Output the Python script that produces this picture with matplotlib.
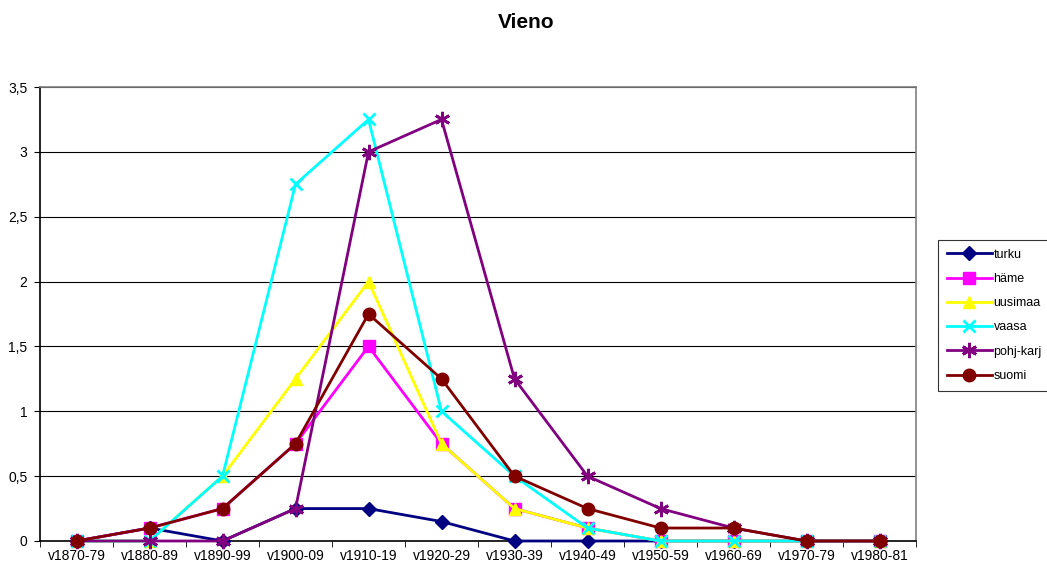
import matplotlib
matplotlib.use("Agg")
import matplotlib.pyplot as plt
from matplotlib.ticker import FuncFormatter, FixedLocator

plt.rcParams['font.family'] = ['Liberation Sans', 'DejaVu Sans']

categories = ["v1870-79", "v1880-89", "v1890-99", "v1900-09", "v1910-19", "v1920-29",
              "v1930-39", "v1940-49", "v1950-59", "v1960-69", "v1970-79", "v1980-81"]
turku = [0, 0.1, 0, 0.25, 0.25, 0.15, 0, 0, 0, 0, 0, 0]
hame = [0, 0.1, 0.25, 0.75, 1.5, 0.75, 0.25, 0.1, 0, 0, 0, 0]
uusimaa = [0, 0, 0.5, 1.25, 2, 0.75, 0.25, 0.1, 0, 0, 0, 0]
vaasa = [0, 0, 0.5, 2.75, 3.25, 1, 0.5, 0.1, 0, 0, 0, 0]
pohjkarj = [0, 0, 0, 0.25, 3, 3.25, 1.25, 0.5, 0.25, 0.1, 0, 0]
suomi = [0, 0.1, 0.25, 0.75, 1.75, 1.25, 0.5, 0.25, 0.1, 0.1, 0, 0]

series = [
    ("turku", turku, "#000080", "D", 7),
    ("häme", hame, "#FF00FF", "s", 8),
    ("uusimaa", uusimaa, "#FFFF00", "^", 9),
    ("vaasa", vaasa, "#00FFFF", "x", 9),
    ("pohj-karj", pohjkarj, "#800080", (6, 2, 0), 11),
    ("suomi", suomi, "#800000", "o", 9),
]

fig = plt.figure(figsize=(10.47, 5.65), dpi=100)
ax = fig.add_axes([40/1047, 1-541/565, (916-40)/1047, (541-87)/565])

x = list(range(len(categories)))
for name, vals, col, mk, ms in series:
    mew = 2 if mk in ("x", (6, 2, 0)) else 1
    ax.plot(x, vals, color=col, marker=mk, markersize=ms, linewidth=2,
            markeredgecolor=col, markerfacecolor=col, markeredgewidth=mew,
            label=name, clip_on=False, zorder=3)

ax.set_xlim(-0.5, len(categories) - 0.5)
ax.set_ylim(0, 3.5)
ax.set_yticks([0, 0.5, 1, 1.5, 2, 2.5, 3, 3.5])
ax.yaxis.set_major_formatter(FuncFormatter(lambda v, p: ("%g" % v).replace(".", ",")))
ax.set_xticks(x)
ax.set_xticklabels(categories)
ax.xaxis.set_minor_locator(FixedLocator([i - 0.5 for i in range(len(categories) + 1)]))
ax.tick_params(axis='x', which='major', length=0, labelsize=10, pad=6)
ax.tick_params(axis='x', which='minor', length=4, direction='out', color='black')
ax.tick_params(axis='y', length=4, direction='out', labelsize=10, color='black', pad=5)
ax.yaxis.grid(True, color='black', linewidth=0.8)
ax.set_axisbelow(True)
for s in ('top', 'right'):
    ax.spines[s].set_color('#808080')
    ax.spines[s].set_linewidth(1.2)
for s in ('left', 'bottom'):
    ax.spines[s].set_color('black')
    ax.spines[s].set_linewidth(1.2)

fig.text(526/1047, 1-22/565, "Vieno", ha='center', va='center', fontsize=15, fontweight='bold')

leg = fig.legend(loc='upper left', bbox_to_anchor=(938/1047, 1-240/565), frameon=True,
                 fancybox=False, edgecolor='black', fontsize=9, handlelength=3.6,
                 labelspacing=0.98, borderpad=0.7, handletextpad=0.15, borderaxespad=0)
leg.get_frame().set_linewidth(0.8)

fig.savefig("out.png", dpi=100)
